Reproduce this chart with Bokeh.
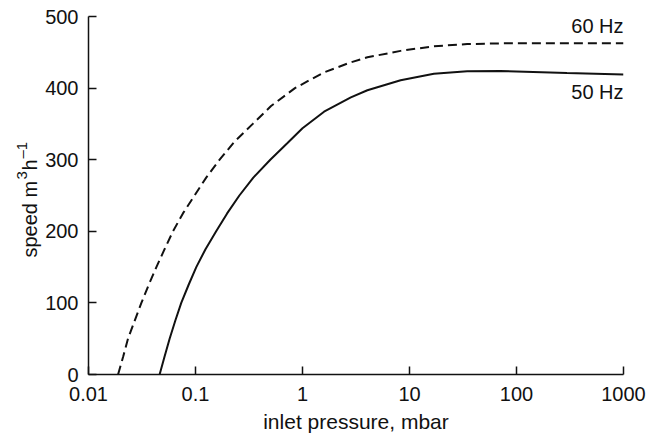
import math
from bokeh.plotting import figure
from bokeh.layouts import row
from bokeh.models import FixedTicker, CustomJSTickFormatter
from bokeh.core.properties import value
from bokeh.embed import file_html
from bokeh.resources import INLINE

# Inlet pressure (mbar) and pumping speed (m3/h)
p60_x = [0.0189, 0.0211, 0.0234, 0.0270, 0.0312, 0.0365, 0.0431, 0.0514,
         0.0616, 0.0763, 0.098, 0.1259, 0.168, 0.231, 0.343, 0.508, 0.85,
         1.59, 2.83, 4.04, 8.26, 16.9, 34.6, 70.6, 200, 1000]
p60_y = [0, 25, 50, 75, 100, 125, 150, 175,
         200, 225, 250, 275, 300, 325, 350, 375, 400,
         422, 436, 443, 452, 458.5, 461.5, 462.5, 462.5, 462.5]

p50_x = [0.0462, 0.0514, 0.0573, 0.0647, 0.0736, 0.0861, 0.1017, 0.124,
         0.156, 0.1975, 0.257, 0.347, 0.50, 0.72, 1.0, 1.59, 2.83, 4.04,
         8.26, 16.9, 34.6, 70.6, 296, 1000]
p50_y = [0, 25, 50, 75, 100, 125, 150, 175,
         200, 225, 250, 275, 300, 323, 344, 367, 387, 397,
         411, 420, 423.5, 424, 421, 419]

x_ticks = [0.01, 0.1, 1, 10, 100, 1000]
y_ticks = [0, 100, 200, 300, 400, 500]

series_labels = ["60 Hz", "50 Hz"]
label_x = [1000, 1000]
label_y = [487, 394]

x_title = "inlet pressure, mbar"
y_title_main = ["speed m", "h"]
y_title_sup = ["3", "\u20131"]          # speed m^3 h^-1

FONT = "Liberation Sans"
INK = "#111111"
TITLE_W = 42
TOP, BOTTOM = 16, 62
FRAME_H = 436 - TOP - BOTTOM

# ---- narrow strip holding the rotated y-axis title (pixel-like ranges) ----
t = figure(width=TITLE_W, height=436, x_range=(0, TITLE_W), y_range=(0, FRAME_H),
           output_backend="svg", toolbar_location=None,
           x_axis_location=None, y_axis_location=None,
           min_border=0, min_border_left=0, min_border_right=0,
           min_border_top=TOP, min_border_bottom=BOTTOM)
t.outline_line_color = None
t.xgrid.grid_line_color = None
t.ygrid.grid_line_color = None
t.background_fill_color = "white"
t.border_fill_color = "white"
t.text(x=[29, 29], y=[117, 204], text=y_title_main, angle=math.pi / 2,
       text_align="left", text_baseline="alphabetic",
       text_font=value(FONT), text_font_size="20px", text_color=INK)
t.text(x=[21, 21], y=[195, 216], text=y_title_sup, angle=math.pi / 2,
       text_align="left", text_baseline="alphabetic",
       text_font=value(FONT), text_font_size="15px", text_color=INK)

# ---- main chart ----
p = figure(width=648 - TITLE_W, height=436, x_axis_type="log",
           x_range=(0.01, 1000), y_range=(0, 500),
           output_backend="svg", toolbar_location=None,
           min_border_left=87 - TITLE_W, min_border_right=25,
           min_border_top=TOP, min_border_bottom=BOTTOM)

p.outline_line_color = None
p.xgrid.grid_line_color = None
p.ygrid.grid_line_color = None
p.background_fill_color = "white"
p.border_fill_color = "white"

p.line(p60_x, p60_y, line_color=INK, line_width=2, line_dash="9 5")
p.line(p50_x, p50_y, line_color=INK, line_width=2)

p.text(x=label_x, y=label_y, text=series_labels, text_align="right",
       text_baseline="middle", text_font=value(FONT), text_font_size="20px",
       text_color=INK)

p.xaxis.ticker = FixedTicker(ticks=x_ticks, minor_ticks=[])
p.xaxis.formatter = CustomJSTickFormatter(code="return String(tick);")
p.yaxis.ticker = FixedTicker(ticks=y_ticks, minor_ticks=[])

for ax in (p.xaxis[0], p.yaxis[0]):
    ax.axis_line_color = INK
    ax.axis_line_width = 1.5
    ax.major_tick_line_color = INK
    ax.major_tick_line_width = 1.5
    ax.major_tick_in = 8
    ax.major_tick_out = 0
    ax.minor_tick_line_color = None
    ax.major_label_text_font = FONT
    ax.major_label_text_font_size = "20px"
    ax.major_label_text_color = INK
    ax.axis_label_text_font = FONT
    ax.axis_label_text_font_size = "21px"
    ax.axis_label_text_font_style = "normal"
    ax.axis_label_text_color = INK

p.xaxis.axis_label = x_title
p.xaxis.major_label_standoff = 12
p.xaxis.axis_label_standoff = 6
p.yaxis.major_label_standoff = 10

layout = row(t, p, spacing=0)
open("out.html", "w").write(file_html(layout, INLINE))
